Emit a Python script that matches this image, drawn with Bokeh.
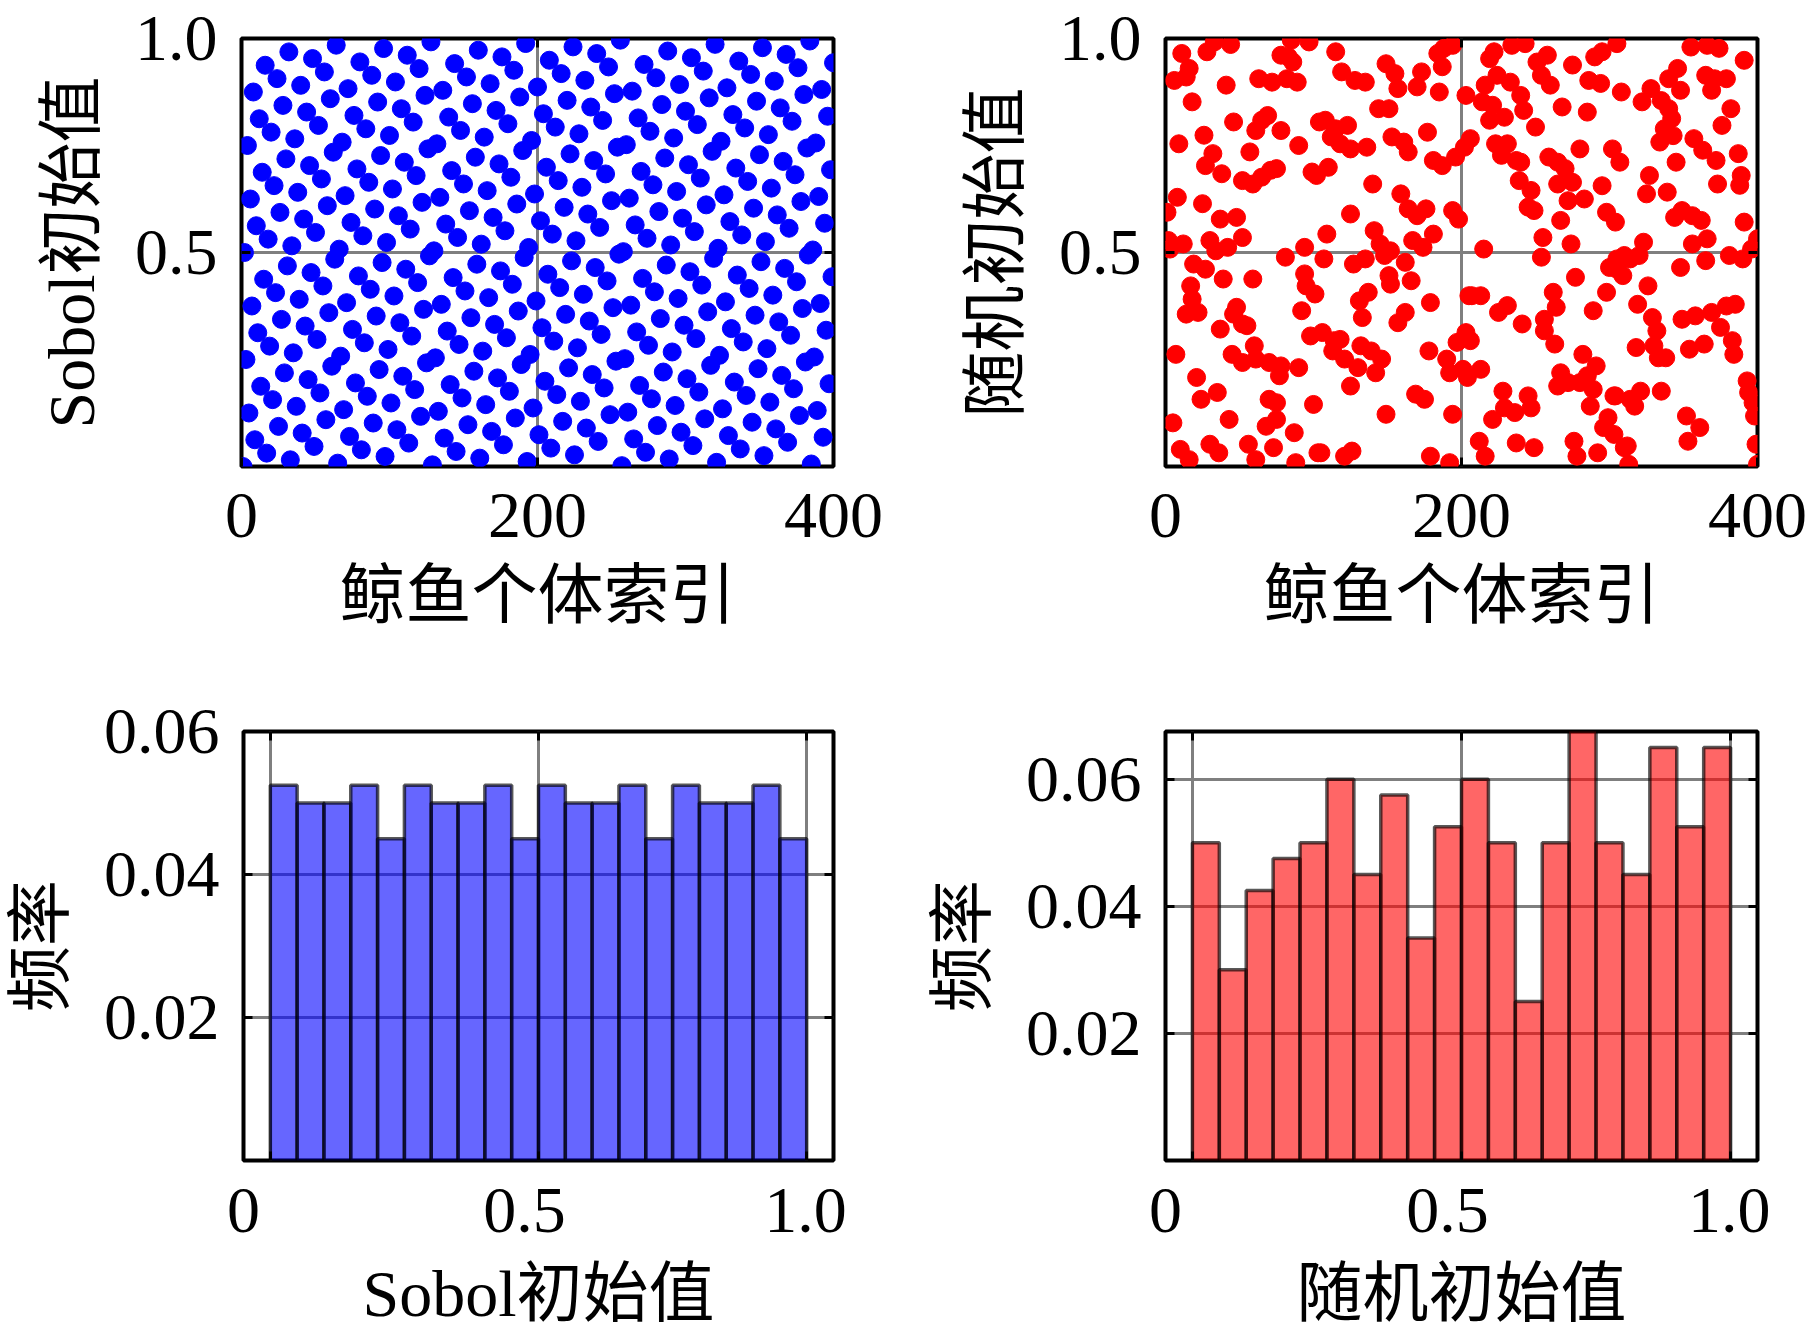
from bokeh.plotting import figure
from bokeh.models import LinearAxis, Range1d, FixedTicker, Grid, CustomLabelingPolicy
from bokeh.layouts import column, row
from bokeh.embed import file_html
from bokeh.resources import INLINE

# Sobol initial values of the 400 whales, read as multiples of 1/512
sobol_512 = [
    0, 256, 128, 384, 64, 320, 192, 448, 32, 288, 160, 416, 96, 352, 224, 480,
    16, 272, 144, 400, 80, 336, 208, 464, 48, 304, 176, 432, 112, 368, 240, 496,
    8, 264, 136, 392, 72, 328, 200, 456, 40, 296, 168, 424, 104, 360, 232, 488,
    24, 280, 152, 408, 88, 344, 216, 472, 56, 312, 184, 440, 120, 376, 248, 504,
    4, 260, 132, 388, 68, 324, 196, 452, 36, 292, 164, 420, 100, 356, 228, 484,
    20, 276, 148, 404, 84, 340, 212, 468, 52, 308, 180, 436, 116, 372, 244, 500,
    12, 268, 140, 396, 76, 332, 204, 460, 44, 300, 172, 428, 108, 364, 236, 492,
    28, 284, 156, 412, 92, 348, 220, 476, 60, 316, 188, 444, 124, 380, 252, 508,
    2, 258, 130, 386, 66, 322, 194, 450, 34, 290, 162, 418, 98, 354, 226, 482,
    18, 274, 146, 402, 82, 338, 210, 466, 50, 306, 178, 434, 114, 370, 242, 498,
    10, 266, 138, 394, 74, 330, 202, 458, 42, 298, 170, 426, 106, 362, 234, 490,
    26, 282, 154, 410, 90, 346, 218, 474, 58, 314, 186, 442, 122, 378, 250, 506,
    6, 262, 134, 390, 70, 326, 198, 454, 38, 294, 166, 422, 102, 358, 230, 486,
    22, 278, 150, 406, 86, 342, 214, 470, 54, 310, 182, 438, 118, 374, 246, 502,
    14, 270, 142, 398, 78, 334, 206, 462, 46, 302, 174, 430, 110, 366, 238, 494,
    30, 286, 158, 414, 94, 350, 222, 478, 62, 318, 190, 446, 126, 382, 254, 510,
    1, 257, 129, 385, 65, 321, 193, 449, 33, 289, 161, 417, 97, 353, 225, 481,
    17, 273, 145, 401, 81, 337, 209, 465, 49, 305, 177, 433, 113, 369, 241, 497,
    9, 265, 137, 393, 73, 329, 201, 457, 41, 297, 169, 425, 105, 361, 233, 489,
    25, 281, 153, 409, 89, 345, 217, 473, 57, 313, 185, 441, 121, 377, 249, 505,
    5, 261, 133, 389, 69, 325, 197, 453, 37, 293, 165, 421, 101, 357, 229, 485,
    21, 277, 149, 405, 85, 341, 213, 469, 53, 309, 181, 437, 117, 373, 245, 501,
    13, 269, 141, 397, 77, 333, 205, 461, 45, 301, 173, 429, 109, 365, 237, 493,
    29, 285, 157, 413, 93, 349, 221, 477, 61, 317, 189, 445, 125, 381, 253, 509,
    3, 259, 131, 387, 67, 323, 195, 451, 35, 291, 163, 419, 99, 355, 227, 483,
]
sobol_val = [v / 512 for v in sobol_512]
sobol_idx = list(range(1, len(sobol_val) + 1))

# random initial values (whale index, value)
rand_points = [
    (11, 0.965), (28, 0.969), (33, 0.992), (44, 0.986), (6, 0.902), (14, 0.91), (16, 0.93), (18, 0.852),
    (41, 0.891), (85, 0.996), (78, 0.961), (83, 0.957), (86, 0.945), (63, 0.906), (72, 0.898), (82, 0.906),
    (89, 0.898), (97, 0.992), (46, 0.805), (61, 0.785), (65, 0.809), (69, 0.820), (78, 0.785), (26, 0.774),
    (9, 0.754), (32, 0.731), (27, 0.703), (38, 0.684), (57, 0.735), (90, 0.750), (52, 0.668), (59, 0.660),
    (65, 0.676), (71, 0.692), (75, 0.696), (99, 0.688), (104, 0.805), (8, 0.629), (25, 0.614), (1, 0.594),
    (37, 0.578), (48, 0.582), (2, 0.528), (3, 0.508), (12, 0.520), (30, 0.528), (34, 0.504), (42, 0.512),
    (52, 0.535), (81, 0.489), (94, 0.512), (19, 0.473), (27, 0.461), (39, 0.438), (59, 0.438), (17, 0.422),
    (18, 0.391), (14, 0.356), (22, 0.360), (94, 0.450), (95, 0.422), (101, 0.403), (48, 0.372), (46, 0.356),
    (52, 0.333), (55, 0.329), (37, 0.321), (92, 0.364), (98, 0.305), (7, 0.262), (45, 0.262), (52, 0.243),
    (60, 0.282), (61, 0.251), (70, 0.243), (78, 0.235), (77, 0.212), (90, 0.231), (21, 0.208), (35, 0.173),
    (24, 0.157), (70, 0.157), (75, 0.149), (100, 0.145), (5, 0.102), (43, 0.110), (68, 0.094), (75, 0.110),
    (87, 0.079), (10, 0.040), (16, 0.016), (30, 0.052), (36, 0.032), (56, 0.052), (61, 0.016), (73, 0.044),
    (88, 0.009), (103, 0.032),
    (115, 0.969), (119, 0.922), (128, 0.902), (135, 0.898), (149, 0.941), (155, 0.918), (157, 0.883),
    (173, 0.922), (170, 0.887), (184, 0.965), (188, 0.977), (194, 0.984), (187, 0.934), (185, 0.875),
    (203, 0.867), (144, 0.836), (151, 0.836), (108, 0.809), (115, 0.789), (123, 0.797), (112, 0.770),
    (118, 0.754), (125, 0.742), (136, 0.746), (153, 0.770), (161, 0.758), (164, 0.735), (177, 0.781),
    (181, 0.715), (187, 0.703), (196, 0.723), (202, 0.746), (206, 0.766), (102, 0.680), (110, 0.699),
    (140, 0.660), (159, 0.637), (164, 0.602), (170, 0.586), (176, 0.602), (181, 0.543), (194, 0.598),
    (198, 0.578), (125, 0.590), (109, 0.543), (141, 0.551), (145, 0.520), (152, 0.504), (148, 0.493),
    (167, 0.528), (174, 0.512), (107, 0.485), (127, 0.473), (135, 0.485), (162, 0.477), (151, 0.446),
    (152, 0.426), (166, 0.434), (137, 0.407), (131, 0.387), (133, 0.348), (179, 0.383), (162, 0.360),
    (157, 0.336), (205, 0.399), (106, 0.313), (114, 0.294), (118, 0.297), (113, 0.270), (121, 0.251),
    (132, 0.282), (139, 0.270), (146, 0.251), (130, 0.231), (142, 0.219), (125, 0.188), (178, 0.270),
    (190, 0.251), (192, 0.219), (201, 0.227), (204, 0.208), (197, 0.290), (169, 0.169), (175, 0.157),
    (149, 0.122), (194, 0.122), (105, 0.032), (121, 0.024), (126, 0.036), (179, 0.024), (192, 0.009),
    (222, 0.969), (219, 0.953), (234, 0.984), (243, 0.988), (251, 0.945), (258, 0.961), (254, 0.914),
    (260, 0.891), (275, 0.938), (290, 0.957), (295, 0.969), (286, 0.902), (294, 0.895), (305, 0.988),
    (308, 0.875), (224, 0.914), (233, 0.898), (240, 0.867), (242, 0.832), (216, 0.891), (214, 0.852),
    (221, 0.844), (219, 0.809), (229, 0.816), (250, 0.793), (268, 0.840), (285, 0.828), (223, 0.754),
    (227, 0.727), (231, 0.754), (237, 0.715), (240, 0.711), (239, 0.668), (247, 0.645), (245, 0.606),
    (249, 0.598), (259, 0.723), (265, 0.711), (270, 0.696), (275, 0.664), (265, 0.660), (272, 0.621),
    (280, 0.742), (283, 0.625), (295, 0.656), (302, 0.742), (307, 0.711), (267, 0.575), (298, 0.594),
    (304, 0.571), (255, 0.535), (254, 0.489), (274, 0.520), (215, 0.508), (300, 0.465), (305, 0.485),
    (310, 0.493), (277, 0.442), (262, 0.407), (264, 0.372), (207, 0.399), (213, 0.399), (225, 0.360),
    (231, 0.376), (241, 0.333), (256, 0.344), (256, 0.317), (263, 0.286), (289, 0.364), (298, 0.407),
    (203, 0.313), (206, 0.294), (282, 0.262), (291, 0.235), (285, 0.212), (289, 0.180), (280, 0.196),
    (267, 0.219), (265, 0.188), (272, 0.196), (213, 0.227), (228, 0.176), (229, 0.137), (245, 0.165),
    (247, 0.137), (221, 0.110), (236, 0.126), (287, 0.141), (303, 0.165), (299, 0.114), (296, 0.091),
    (303, 0.075), (212, 0.059), (216, 0.024), (237, 0.055), (249, 0.044), (276, 0.059), (278, 0.024),
    (292, 0.032), (310, 0.044),
    (355, 0.980), (366, 0.984), (374, 0.977), (391, 0.949), (346, 0.930), (340, 0.906), (365, 0.914),
    (371, 0.906), (379, 0.906), (369, 0.879), (328, 0.883), (322, 0.852), (335, 0.855), (340, 0.836),
    (348, 0.879), (382, 0.836), (376, 0.797), (342, 0.813), (337, 0.789), (343, 0.773), (334, 0.758),
    (357, 0.766), (363, 0.739), (372, 0.715), (387, 0.731), (345, 0.711), (327, 0.680), (325, 0.637),
    (339, 0.641), (373, 0.660), (389, 0.680), (388, 0.657), (344, 0.582), (349, 0.598), (356, 0.586),
    (362, 0.575), (391, 0.571), (356, 0.520), (366, 0.532), (400, 0.532), (396, 0.508), (390, 0.485),
    (381, 0.493), (323, 0.524), (320, 0.493), (314, 0.485), (309, 0.485), (305, 0.461), (309, 0.446),
    (348, 0.465), (365, 0.481), (326, 0.422), (319, 0.379), (329, 0.348), (332, 0.317), (330, 0.282),
    (338, 0.254), (333, 0.254), (318, 0.278), (349, 0.344), (358, 0.352), (369, 0.360), (379, 0.375),
    (385, 0.379), (375, 0.325), (383, 0.294), (384, 0.262), (354, 0.274), (364, 0.286), (393, 0.200),
    (394, 0.173), (397, 0.149), (398, 0.118), (304, 0.165), (314, 0.157), (321, 0.176), (317, 0.141),
    (335, 0.176), (352, 0.118), (361, 0.091), (353, 0.059), (312, 0.048), (313, 0.005), (399, 0.052),
    (400, 0.005),
]
rand_idx = [pt[0] for pt in rand_points]
rand_val = [pt[1] for pt in rand_points]

# histogram: 20 bins over [0, 1], frequency per bin
bin_edges = [0.0, 0.05, 0.1, 0.15, 0.2, 0.25, 0.3, 0.35, 0.4, 0.45, 0.5,
             0.55, 0.6, 0.65, 0.7, 0.75, 0.8, 0.85, 0.9, 0.95, 1.0]
sobol_freq = [0.0525, 0.05, 0.05, 0.0525, 0.045, 0.0525, 0.05, 0.05, 0.0525, 0.045,
              0.0525, 0.05, 0.05, 0.0525, 0.045, 0.0525, 0.05, 0.05, 0.0525, 0.045]
rand_freq = [0.05, 0.03, 0.0425, 0.0475, 0.05, 0.06, 0.045, 0.0575, 0.035, 0.0525,
             0.06, 0.05, 0.025, 0.05, 0.0675, 0.05, 0.045, 0.065, 0.0525, 0.065]

scatter_xticks = [0, 200, 400]
scatter_yticks = [0.5, 1.0]
scatter_ylabels = {0.5: "0.5", 1: "1.0"}
hist_xticks = [0, 0.5, 1.0]
hist_xlabels = {0: "0", 0.5: "0.5", 1: "1.0"}
hist_yticks = [0.02, 0.04, 0.06]

FONT = "Liberation Serif, Noto Sans CJK SC"
TICK_SIZE = "66px"
LABEL_SIZE = "66px"

# mirror axes only carry tick marks, so drop all of their labels
no_labels = "for (let i = 0; i < indices.size; i++) { indices.unset(i) }\nreturn indices"


def new_fig(w, h, left, right, top, bottom, xr, yr):
    p = figure(width=w, height=h, x_range=xr, y_range=yr,
               x_axis_location=None, y_axis_location=None,
               output_backend="svg", toolbar_location=None,
               min_border_left=left, min_border_right=right,
               min_border_top=top, min_border_bottom=bottom)
    p.xgrid.visible = False
    p.ygrid.visible = False
    p.outline_line_color = "black"
    p.outline_line_width = 4
    p.outline_line_alpha = 1.0
    return p


def tick_axis(ticks, show_labels, **kw):
    ax = LinearAxis(ticker=FixedTicker(ticks=ticks), **kw)
    ax.axis_line_color = None
    ax.major_tick_in = 9
    ax.major_tick_out = 0
    ax.major_tick_line_width = 3
    ax.major_tick_line_color = "black"
    ax.minor_tick_line_color = None
    if show_labels:
        ax.major_label_text_font = FONT
        ax.major_label_text_font_size = TICK_SIZE
        ax.major_label_text_color = "black"
        ax.major_label_standoff = 27
    else:
        ax.major_label_policy = CustomLabelingPolicy(code=no_labels)
        ax.major_label_text_font_size = "1px"
        ax.major_label_standoff = 0
    return ax


def set_label(ax, text, standoff):
    ax.axis_label = text
    ax.axis_label_text_font = FONT
    ax.axis_label_text_font_size = LABEL_SIZE
    ax.axis_label_text_font_style = "normal"
    ax.axis_label_text_color = "black"
    ax.axis_label_standoff = standoff


def add_grid(p, xticks, yticks):
    for dim, ticks in ((0, xticks), (1, yticks)):
        p.add_layout(Grid(dimension=dim, ticker=FixedTicker(ticks=ticks),
                          grid_line_color="#7f7f7f", grid_line_width=3))


def scatter_panel(w, left, right, xs, ys, color, ylabel):
    p = new_fig(w, 688, left, right, 38, 222, Range1d(0, 400), Range1d(0, 1))
    add_grid(p, scatter_xticks, scatter_yticks)
    xb = tick_axis(scatter_xticks, True)
    set_label(xb, "鲸鱼个体索引", 19)
    p.add_layout(xb, "below")
    yl = tick_axis(scatter_yticks, True)
    yl.major_label_standoff = 24
    yl.major_label_overrides = scatter_ylabels
    set_label(yl, ylabel, 24)
    p.add_layout(yl, "left")
    p.add_layout(tick_axis(scatter_xticks, False), "above")
    p.add_layout(tick_axis(scatter_yticks, False), "right")
    p.scatter(xs, ys, marker="circle", size=18, color=color, line_width=1)
    return p


def hist_panel(w, left, right, freq, color, ymax, xlabel):
    p = new_fig(w, 648, left, right, 43, 176, Range1d(-0.05, 1.05), Range1d(0, ymax))
    p.extra_x_ranges = {"lbl": Range1d(0, 1.05)}
    add_grid(p, hist_xticks, hist_yticks)
    p.add_layout(tick_axis(hist_xticks, False), "below")
    xl = tick_axis(hist_xticks, True, x_range_name="lbl")
    xl.major_tick_in = 0
    xl.major_label_standoff = 24
    xl.major_label_overrides = hist_xlabels
    set_label(xl, xlabel, 22)
    p.add_layout(xl, "below")
    yl = tick_axis(hist_yticks, True)
    yl.major_label_standoff = 24
    set_label(yl, "频率", 24)
    p.add_layout(yl, "left")
    p.add_layout(tick_axis(hist_xticks, False), "above")
    p.add_layout(tick_axis(hist_yticks, False), "right")
    p.quad(left=bin_edges[:-1], right=bin_edges[1:], bottom=0, top=freq,
           fill_color=color, fill_alpha=0.6, line_color="black", line_alpha=0.65, line_width=3.5)
    return p


p1 = scatter_panel(888, 241, 55, sobol_idx, sobol_val, "blue", "Sobol初始值")
p2 = scatter_panel(919, 277, 50, rand_idx, rand_val, "red", "随机初始值")
p3 = hist_panel(888, 241, 55, sobol_freq, "blue", 0.06, "Sobol初始值")
p4 = hist_panel(919, 277, 50, rand_freq, "red", 0.0675, "随机初始值")

p = column(row(p1, p2), row(p3, p4))

open("out.html", "w").write(file_html(p, INLINE))
